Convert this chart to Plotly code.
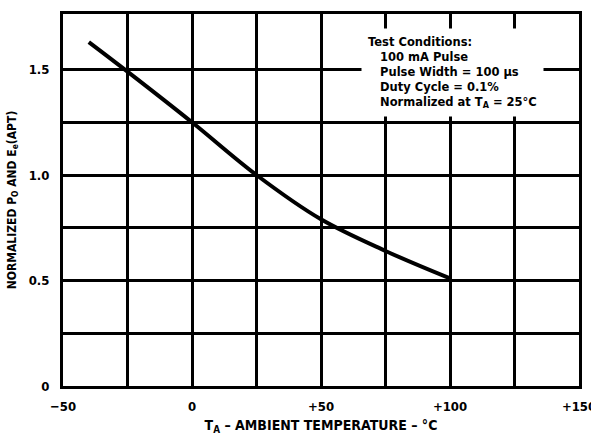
import plotly.graph_objects as go

# Data
temp_c = [-40, -25, 0, 25, 50, 75, 100]
normalized = [1.63, 1.49, 1.25, 1.0, 0.79, 0.64, 0.51]

x_tick_vals = [-50, 0, 50, 100, 150]
x_tick_text = ["−50", "0", "+50", "+100", "+150"]
x_minor_vals = [-25, 25, 75, 125]
y_tick_vals = [0, 0.5, 1.0, 1.5]
y_tick_text = ["0", "0.5", "1.0", "1.5"]
y_minor_vals = [0.25, 0.75, 1.25]

FONT = "DejaVu Sans Condensed"

fig = go.Figure()
fig.add_trace(go.Scatter(
    x=temp_c, y=normalized, mode="lines",
    line=dict(color="black", width=4, shape="spline", smoothing=1.0),
    showlegend=False, hoverinfo="skip",
))

fig.add_annotation(
    x=0.578, y=0.962, xref="paper", yref="paper", xanchor="left", yanchor="top",
    align="left", showarrow=False, bgcolor="white", borderpad=6,
    text=("<b>Test Conditions:</b><br>"
          "<b>   100 mA Pulse</b><br>"
          "<b>   Pulse Width = 100 μs</b><br>"
          "<b>   Duty Cycle = 0.1%</b><br>"
          "<b>   Normalized at T<sub>A</sub> = 25°C</b>"),
    font=dict(family="DejaVu Sans", size=11.5, color="black"),
)

grid = dict(showgrid=True, gridcolor="black", gridwidth=2.5)

fig.update_layout(
    width=591, height=435,
    margin=dict(l=63, r=12, t=14, b=49),
    plot_bgcolor="white", paper_bgcolor="white",
    font=dict(family=FONT, size=11, color="black"),
    xaxis=dict(
        range=[-50, 150], tickvals=x_tick_vals, ticktext=x_tick_text,
        minor=dict(tickvals=x_minor_vals, **grid, ticks=""),
        **grid, automargin=False, ticklabeloverflow="allow",
        showline=True, linecolor="black", linewidth=3, mirror=True,
        zeroline=False, ticks="", ticklabelstandoff=6,
        tickfont=dict(family=FONT, size=13, weight="bold"),
        title=dict(text="<b>T<sub>A</sub> – AMBIENT TEMPERATURE – °C</b>",
                   font=dict(family=FONT, size=14), standoff=10),
    ),
    yaxis=dict(
        range=[0, 1.763], tickvals=y_tick_vals, ticktext=y_tick_text,
        minor=dict(tickvals=y_minor_vals, **grid, ticks=""),
        **grid, automargin=False, ticklabeloverflow="allow",
        showline=True, linecolor="black", linewidth=3, mirror=True,
        zeroline=False, ticks="", ticklabelstandoff=8,
        tickfont=dict(family=FONT, size=13, weight="bold"),
        title=dict(text="<b>NORMALIZED P<sub>O</sub> AND E<sub>e</sub>(APT)</b>",
                   font=dict(family=FONT, size=12), standoff=10),
    ),
)

fig.write_html("out.html", config={"displayModeBar": False},
               post_script="document.body.style.margin='0';")
